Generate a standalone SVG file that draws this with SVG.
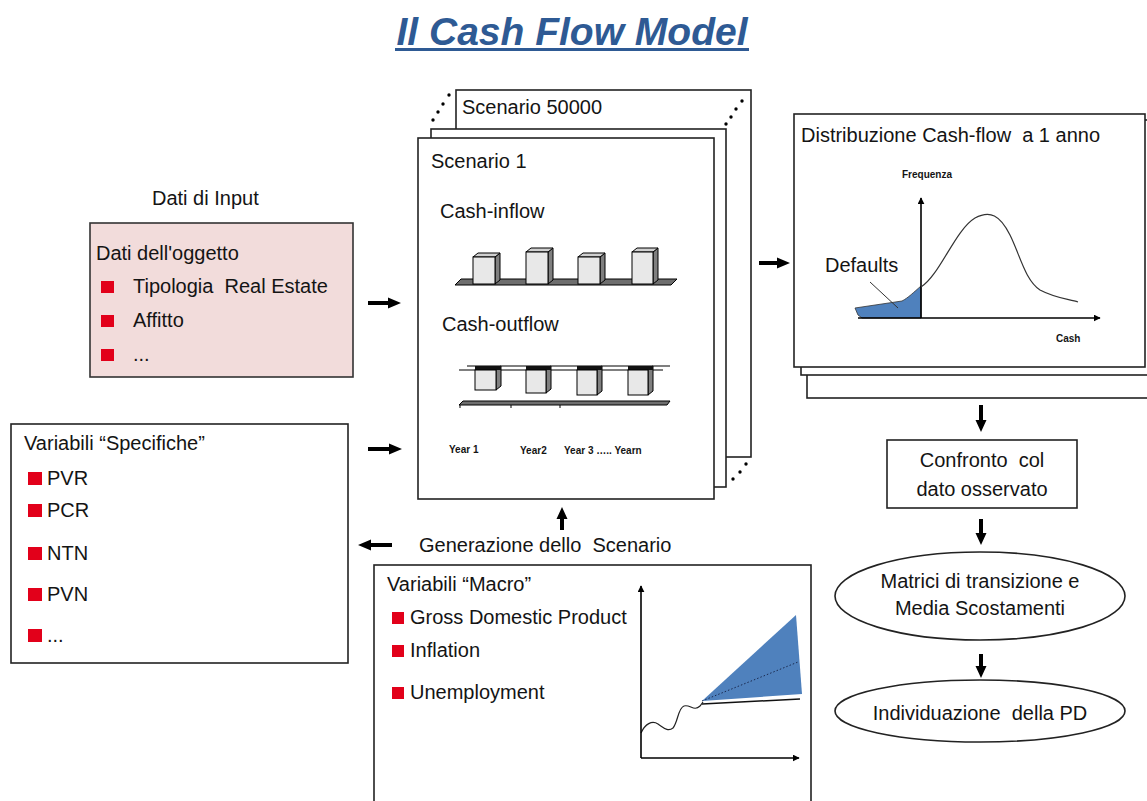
<svg xmlns="http://www.w3.org/2000/svg" width="1147" height="801" viewBox="0 0 1147 801">
<style>
text{font-family:"Liberation Sans",Arial,sans-serif;fill:#141414;white-space:pre;}
.t{font-size:20px;}
.sm{font-size:10px;font-weight:bold;}
.title{font-size:39px;font-weight:bold;font-style:italic;fill:#2E5A94;}
.box{fill:#fff;stroke:#222;stroke-width:1.6;}
.pink{fill:#F2DCDB;stroke:#333;stroke-width:1.6;}
.bul{fill:#E2001A;}
.arr{fill:#000;}
.ax{stroke:#000;stroke-width:1.6;fill:none;}
.front{fill:#E8E8E8;stroke:#000;stroke-width:1;}
.side{fill:#7F7F7F;stroke:#000;stroke-width:1;}
.topf{fill:#D0D0D0;stroke:#000;stroke-width:1;}
.plat{fill:#6E6E6E;stroke:#000;stroke-width:1;}
.dot{fill:#000;}
.blue{fill:#4F81BD;}
</style>
<defs>
<marker id="ah" viewBox="0 0 10 10" refX="9" refY="5" markerWidth="7" markerHeight="7" orient="auto" markerUnits="userSpaceOnUse">
<path d="M0,0 L10,5 L0,10 Z" fill="#000"/>
</marker>
</defs>
<g id="title">
<text class="title" x="572" y="45" text-anchor="middle">Il Cash Flow Model</text>
<rect x="395" y="48" width="354" height="3" fill="#2E5A94"/>
</g>
<g id="input">
<text class="t" x="152" y="205">Dati di Input</text>
<rect class="pink" x="90" y="223" width="263" height="154"/>
<text class="t" x="96" y="260">Dati dell'oggetto</text>
<rect class="bul" x="101" y="281" width="13" height="12"/>
<text class="t" x="133" y="293">Tipologia  Real Estate</text>
<rect class="bul" x="101" y="315" width="13" height="12"/>
<text class="t" x="133" y="327">Affitto</text>
<rect class="bul" x="101" y="349" width="13" height="12"/>
<text class="t" x="133" y="361">...</text>
</g>
<g id="specifiche">
<rect class="box" x="11" y="424" width="337" height="239"/>
<text class="t" x="24" y="450">Variabili “Specifiche”</text>
<rect class="bul" x="28" y="472" width="14" height="13"/>
<text class="t" x="47" y="485">PVR</text>
<rect class="bul" x="28" y="504" width="14" height="13"/>
<text class="t" x="47" y="517">PCR</text>
<rect class="bul" x="28" y="547" width="14" height="13"/>
<text class="t" x="47" y="560">NTN</text>
<rect class="bul" x="28" y="588" width="14" height="13"/>
<text class="t" x="47" y="601">PVN</text>
<rect class="bul" x="28" y="629" width="14" height="13"/>
<text class="t" x="47" y="642">...</text>
</g>
<g id="scenario">
<rect class="box" x="456" y="90" width="295" height="367"/>
<text class="t" x="462" y="114">Scenario 50000</text>
<rect class="box" x="431" y="129" width="295" height="358"/>
<rect class="box" x="418" y="138" width="296" height="361"/>
<circle class="dot" cx="433" cy="120" r="1.7"/>
<circle class="dot" cx="438" cy="112" r="1.7"/>
<circle class="dot" cx="443" cy="104" r="1.7"/>
<circle class="dot" cx="449" cy="95" r="1.7"/>
<circle class="dot" cx="726" cy="124" r="1.7"/>
<circle class="dot" cx="731" cy="117" r="1.7"/>
<circle class="dot" cx="736" cy="109" r="1.7"/>
<circle class="dot" cx="742" cy="101" r="1.7"/>
<circle class="dot" cx="733" cy="479" r="1.7"/>
<circle class="dot" cx="740" cy="472" r="1.7"/>
<circle class="dot" cx="746" cy="464" r="1.7"/>
<text class="t" x="431" y="168">Scenario 1</text>
<text class="t" x="440" y="218">Cash-inflow</text>
<polygon class="plat" points="461,279 677,279 671,285 455,285"/>
<g id="inbars">
<polygon class="side" points="495,257 500,253 500,280 495,284"/>
<polygon class="topf" points="473,257 478,253 500,253 495,257"/>
<rect class="front" x="473" y="257" width="22" height="27"/>
<polygon class="side" points="548,252 553,248 553,280 548,284"/>
<polygon class="topf" points="526,252 531,248 553,248 548,252"/>
<rect class="front" x="526" y="252" width="22" height="32"/>
<polygon class="side" points="600,257 605,253 605,280 600,284"/>
<polygon class="topf" points="578,257 583,253 605,253 600,257"/>
<rect class="front" x="578" y="257" width="22" height="27"/>
<polygon class="side" points="653,252 658,248 658,280 653,284"/>
<polygon class="topf" points="632,252 637,248 658,248 653,252"/>
<rect class="front" x="632" y="252" width="21" height="32"/>
</g>
<text class="t" x="442" y="331">Cash-outflow</text>
<line x1="467" y1="366" x2="670" y2="366" stroke="#000" stroke-width="1.2"/>
<line x1="459" y1="370" x2="663" y2="370" stroke="#000" stroke-width="1.2"/>
<g id="outbars">
<polygon class="side" points="496,368 501,366 501,386 496,390"/>
<rect x="475" y="366" width="26" height="4" fill="#111"/>
<rect class="front" x="475" y="370" width="21" height="20"/>
<polygon class="side" points="546,368 551,366 551,389 546,393"/>
<rect x="526" y="366" width="25" height="4" fill="#111"/>
<rect class="front" x="526" y="370" width="20" height="23"/>
<polygon class="side" points="597,368 602,366 602,391 597,395"/>
<rect x="577" y="366" width="25" height="4" fill="#111"/>
<rect class="front" x="577" y="370" width="20" height="25"/>
<polygon class="side" points="648,368 653,366 653,391 648,395"/>
<rect x="628" y="366" width="25" height="4" fill="#111"/>
<rect class="front" x="628" y="370" width="20" height="25"/>
</g>
<polygon class="plat" points="463,401 670,401 667,405 459,405"/>
<line x1="460" y1="405" x2="460" y2="408" stroke="#000"/>
<line x1="511" y1="405" x2="511" y2="408" stroke="#000"/>
<line x1="560" y1="405" x2="560" y2="408" stroke="#000"/>
<text class="sm" x="449" y="453">Year 1</text>
<text class="sm" x="520" y="454">Year2</text>
<text class="sm" x="564" y="454">Year 3 ….. Yearn</text>
</g>
<g id="distribuzione">
<rect class="box" x="807" y="130" width="360" height="268"/>
<rect class="box" x="801" y="120" width="360" height="255"/>
<rect class="box" x="794" y="114" width="351" height="253"/>
<text class="t" x="801" y="142">Distribuzione Cash-flow  a 1 anno</text>
<text class="sm" x="902" y="178" style="font-size:10px">Frequenza</text>
<text class="sm" x="1056" y="342" style="font-size:10px">Cash</text>
<path class="blue" d="M855,308 L858,315 L862,318 L921,318 L921,286 C914,292 908,298 902,301 Z" stroke="#333" stroke-width="0.8"/>
<line class="ax" x1="921" y1="318" x2="921" y2="198" marker-end="url(#ah)"/>
<line class="ax" x1="858" y1="318" x2="1100" y2="318" marker-end="url(#ah)"/>
<path d="M921,287 C940,275 955,230 975,218 C990,210 1000,215 1010,235 C1020,255 1025,280 1040,290 C1055,298 1068,299 1078,302" fill="none" stroke="#333" stroke-width="1.2"/>
<text class="t" x="825" y="272">Defaults</text>
<line x1="870" y1="282" x2="898" y2="308" stroke="#333" stroke-width="1"/>
</g>
<g id="generazione">
<text class="t" x="419" y="552">Generazione dello  Scenario</text>
</g>
<g id="macro">
<rect class="box" x="374" y="565" width="437" height="260"/>
<text class="t" x="387" y="591">Variabili “Macro”</text>
<rect class="bul" x="392" y="612" width="12" height="12"/>
<text class="t" x="410" y="624">Gross Domestic Product</text>
<rect class="bul" x="392" y="645" width="12" height="12"/>
<text class="t" x="410" y="657">Inflation</text>
<rect class="bul" x="392" y="687" width="12" height="12"/>
<text class="t" x="410" y="699">Unemployment</text>
<polygon class="blue" points="702,701 796,615 802,694"/>
<line x1="702" y1="701" x2="798" y2="662" stroke="#1a2a50" stroke-width="1" stroke-dasharray="1.5,2"/>
<line x1="702" y1="704" x2="800" y2="699" stroke="#111" stroke-width="1.5"/>
<path d="M641,733 C645,724 652,720 658,724 C664,728 668,732 673,728 C678,722 678,708 684,706 C690,704 694,712 700,706 L703,702" fill="none" stroke="#222" stroke-width="1.2"/>
<line class="ax" x1="641" y1="758" x2="641" y2="586" marker-end="url(#ah)"/>
<line class="ax" x1="641" y1="758" x2="799" y2="758" marker-end="url(#ah)"/>
</g>
<g id="confronto">
<rect class="box" x="887" y="440" width="190" height="68"/>
<text class="t" x="982" y="467" text-anchor="middle">Confronto  col</text>
<text class="t" x="982" y="496" text-anchor="middle">dato osservato</text>
</g>
<g id="matrici">
<ellipse class="box" cx="980" cy="596" rx="145" ry="44"/>
<text class="t" x="980" y="588" text-anchor="middle">Matrici di transizione e</text>
<text class="t" x="980" y="615" text-anchor="middle">Media Scostamenti</text>
</g>
<g id="pd">
<ellipse class="box" cx="980" cy="711" rx="145" ry="31"/>
<text class="t" x="980" y="720" text-anchor="middle">Individuazione  della PD</text>
</g>
<g id="connectors">
<path class="arr" d="M368,301 H388 V297.5 L401,303 L388,308.5 V305 H368 Z"/>
<path class="arr" d="M368,447 H389 V443.5 L402,449 L389,454.5 V451 H368 Z"/>
<path class="arr" d="M392,543 H371 V539.5 L358,545 L371,550.5 V547 H392 Z"/>
<path class="arr" d="M560,530 V519 H556.5 L562,507 L567.5,519 H564 V530 Z"/>
<path class="arr" d="M759,261 H777 V257.5 L790,263 L777,268.5 V265 H759 Z"/>
<path class="arr" d="M979,405 V420 H975.5 L981,432 L986.5,420 H983 V405 Z"/>
<path class="arr" d="M979,519 V533 H975.5 L981,545 L986.5,533 H983 V519 Z"/>
<path class="arr" d="M979,654 V666 H975.5 L981,678 L986.5,666 H983 V654 Z"/>
</g>
</svg>
